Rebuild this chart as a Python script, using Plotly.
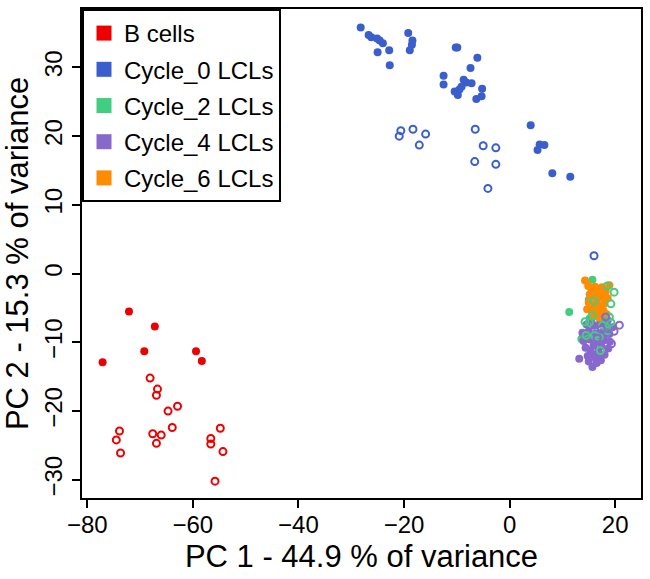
import plotly.graph_objects as go

# ---------------- data ----------------
groups = ["B cells", "Cycle_0 LCLs", "Cycle_2 LCLs", "Cycle_4 LCLs", "Cycle_6 LCLs"]
colors = ["#EE0000", "#3A5FCD", "#43CD80", "#8968CD", "#FF8C00"]

# B cells
b_fill_x = [-72.1, -67.2, -69.2, -77.1, -59.4, -58.3]
b_fill_y = [-5.5, -7.7, -11.3, -12.9, -11.3, -12.7]
b_open_x = [-68.1, -66.7, -66.9, -64.7, -62.9, -63.9, -73.9, -74.5, -73.7, -67.6, -66.0, -66.9,
            -56.6, -56.6, -54.8, -54.3, -55.8]
b_open_y = [-15.2, -16.8, -17.7, -20.0, -19.3, -22.4, -22.9, -24.2, -26.1, -23.3, -23.5, -24.7,
            -24.0, -24.8, -22.5, -25.9, -30.2]

# Cycle_0 LCLs
c0_fill_x = [-28.2, -26.7, -26.2, -25.1, -24.6, -24.0, -25.0, -22.8, -22.7, -19.2, -18.4, -18.5,
             -18.9, -10.2, -9.9, -6.1, -7.4, -12.5, -12.5, -8.7, -8.2, -7.2, -9.1, -9.5, -10.4,
             -9.8, -5.2, -5.3, -6.3, 4.0, 5.7, 6.6, 5.3, 8.1, 11.5]
c0_fill_y = [35.8, 34.7, 34.4, 34.2, 33.9, 33.5, 32.2, 32.5, 30.3, 35.0, 33.9, 33.3,
             32.5, 32.9, 32.9, 31.4, 29.9, 28.8, 27.5, 28.2, 27.8, 27.7, 27.2, 26.8, 26.5,
             26.0, 26.9, 25.8, 25.4, 21.6, 18.8, 18.7, 18.0, 14.6, 14.1]
c0_open_x = [-20.6, -20.9, -18.3, -15.9, -17.1, -6.5, -5.0, -6.6, -4.1, -2.6, -2.6, 16.0]
c0_open_y = [20.8, 20.0, 21.0, 20.3, 18.7, 21.0, 18.6, 16.3, 12.4, 18.3, 15.9, 2.6]

# Cycle_2 LCLs
c2_fill_x = [11.3, 15.7, 13.6, 14.5, 16.4, 17.5, 15.2, 18.3, 16.8, 15.0]
c2_fill_y = [-5.6, -0.9, -9.5, -8.8, -7.5, -6.3, -6.5, -8.0, -9.8, -3.8]
c2_open_x = [19.8, 19.2, 15.7, 18.9, 15.1, 17.6, 18.6, 16.1, 17.0, 14.5, 19.2, 18.5, 16.0,
             17.2, 14.3]
c2_open_y = [-2.7, -4.4, -6.1, -6.3, -7.1, -7.5, -8.3, -9.0, -9.2, -9.0, -7.1, -1.8, -4.0,
             -11.2, -7.0]

# Cycle_4 LCLs
c4_fill_x = [13.2, 15.7, 16.5, 14.8, 16.2, 17.3, 15.3, 16.8, 18.0, 14.4, 15.9, 17.4, 18.7,
             14.0, 15.2, 16.6, 17.9, 19.0, 13.8, 15.0, 16.3, 17.6, 18.9, 14.6, 16.0, 17.2,
             18.4, 19.5, 15.5, 17.0, 18.6, 16.9, 15.0, 17.8, 16.0]
c4_fill_y = [-12.4, -13.6, -13.0, -12.0, -12.2, -12.6, -11.2, -11.4, -11.8, -10.8, -10.5,
             -10.6, -10.9, -9.8, -9.6, -9.9, -9.7, -9.9, -8.6, -8.4, -8.7, -8.5, -8.8, -7.4,
             -7.6, -7.3, -7.6, -7.8, -6.6, -6.4, -6.8, -12.0, -12.8, -9.2, -11.8]
c4_open_x = [20.8, 19.8, 19.3, 17.4, 18.2, 16.6]
c4_open_y = [-7.5, -8.4, -10.2, -8.1, -6.3, -9.4]

# Cycle_6 LCLs
c6_fill_x = [14.9, 15.5, 16.2, 16.8, 17.5, 18.2, 15.2, 16.0, 16.7, 17.4, 18.0, 18.6, 15.0,
             15.8, 16.5, 17.2, 17.9, 14.7, 15.6, 16.4, 17.1, 17.8, 18.4, 16.0, 17.0, 14.3, 18.9]
c6_fill_y = [-1.8, -2.2, -1.9, -2.4, -2.0, -2.6, -3.0, -3.3, -2.9, -3.4, -3.1, -3.6, -4.2,
             -4.6, -4.1, -4.8, -4.4, -5.2, -5.5, -5.0, -5.8, -5.4, -5.9, -6.2, -6.4, -1.0, -1.7]

x_ticks = [-80, -60, -40, -20, 0, 20]
y_ticks = [-30, -20, -10, 0, 10, 20, 30]
x_title = "PC 1 - 44.9 % of variance"
y_title = "PC 2 - 15.3 % of variance"

# ---------------- figure ----------------
FONT = "Liberation Sans, Arial, Helvetica, sans-serif"
fig = go.Figure()

filled = [(b_fill_x, b_fill_y), (c0_fill_x, c0_fill_y), (c2_fill_x, c2_fill_y),
          (c4_fill_x, c4_fill_y), (c6_fill_x, c6_fill_y)]
opened = [(b_open_x, b_open_y), (c0_open_x, c0_open_y), (c2_open_x, c2_open_y),
          (c4_open_x, c4_open_y), (None, None)]

for (xs, ys), col in zip(filled, colors):
    fig.add_trace(go.Scatter(x=xs, y=ys, mode="markers", showlegend=False,
                             marker=dict(symbol="circle", size=8, color=col,
                                         line=dict(width=0)),
                             hoverinfo="skip"))
for (xs, ys), col in zip(opened, colors):
    if xs is None:
        continue
    fig.add_trace(go.Scatter(x=xs, y=ys, mode="markers", showlegend=False,
                             marker=dict(symbol="circle-open", size=7, color=col,
                                         line=dict(width=2, color=col)),
                             hoverinfo="skip"))

for g, col in zip(groups, colors):
    fig.add_trace(go.Scatter(x=[None], y=[None], mode="markers", name=g, legendgroup=g,
                             marker=dict(symbol="square", size=15, color=col)))

axis_common = dict(showline=True, linewidth=2, linecolor="black", mirror=True,
                   ticks="outside", ticklen=8, tickwidth=2, tickcolor="black",
                   showgrid=False, zeroline=False,
                   tickfont=dict(family=FONT, size=24, color="black"))

fig.update_layout(
    width=650, height=579,
    margin=dict(l=82, r=9, t=7, b=81),
    paper_bgcolor="white", plot_bgcolor="white",
    xaxis=dict(range=[-81.0, 24.9], tickvals=x_ticks, ticklabelstandoff=-4,
               title=dict(text=x_title, font=dict(family=FONT, size=31, color="black"),
                          standoff=9),
               **axis_common),
    yaxis=dict(range=[-32.65, 38.5], tickvals=y_ticks, tickangle=-90,
               title=dict(text=y_title, font=dict(family=FONT, size=31, color="black"),
                          standoff=6),
               **axis_common),
    legend=dict(x=0, y=1, xanchor="left", yanchor="top",
                bgcolor="white", bordercolor="black", borderwidth=2,
                font=dict(family=FONT, size=24, color="black"),
                traceorder="grouped", tracegroupgap=2, itemsizing="trace"),
)

fig.write_html("out.html",
               config={"displayModeBar": False},
               post_script="document.body.style.margin='0';"
                           "document.body.style.overflow='hidden';")
